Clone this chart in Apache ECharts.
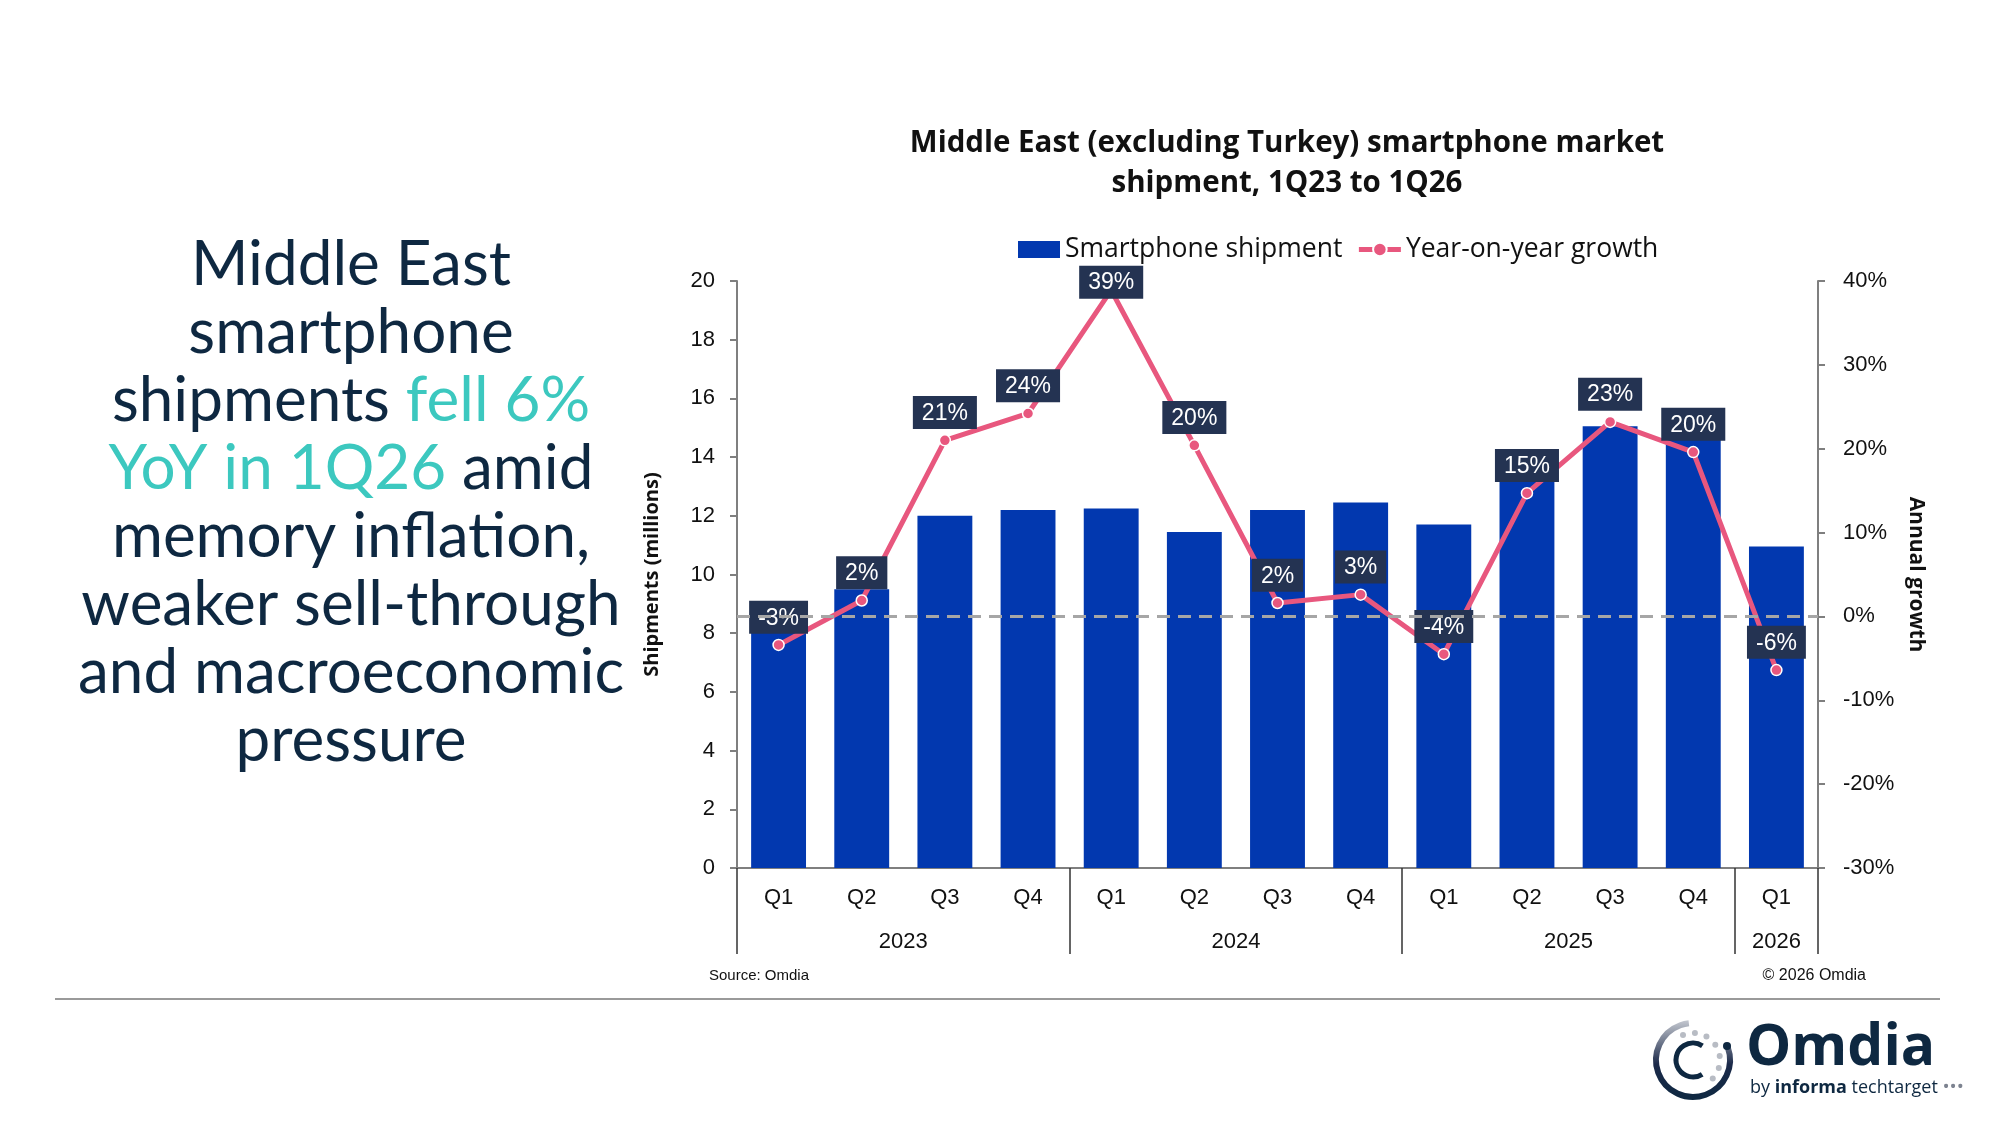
<!DOCTYPE html>
<html>
<head>
<meta charset="utf-8">
<script src="https://cdn.jsdelivr.net/npm/echarts@6/dist/echarts.min.js"></script>
<style>
  html, body { margin: 0; padding: 0; background: #fff; }
  #main { width: 2000px; height: 1125px; }
</style>
</head>
<body>
<div id="main"></div>
<script>
// data
var quarters = ['Q1', 'Q2', 'Q3', 'Q4', 'Q1', 'Q2', 'Q3', 'Q4', 'Q1', 'Q2', 'Q3', 'Q4', 'Q1'];
var years = ['2023', '2024', '2025', '2026'];
var quartersPerYear = [4, 4, 4, 1];
var shipments = [8.8, 9.5, 12.0, 12.2, 12.25, 11.45, 12.2, 12.45, 11.7, 13.2, 15.05, 14.9, 10.95];
var yoyGrowth = [-3.4, 1.9, 21.0, 24.2, 38.9, 20.4, 1.6, 2.6, -4.5, 14.7, 23.2, 19.6, -6.4];

var headline = [
    'Middle East',
    'smartphone',
    'shipments {t|fell 6%}',
    '{t|YoY in 1Q26} amid',
    'memory inflation,',
    'weaker sell-through',
    'and macroeconomic',
    'pressure'
];

var navy = '#0e2841';
var teal = '#3cc8bf';
var barBlue = '#0238af';
var pink = '#e8577e';
var axisFont = '"Liberation Sans", Arial, sans-serif';

// year group boundaries and centres for the second (year) axis
var yearBounds = [0];
var yearCentres = [];
quartersPerYear.forEach(function (n, i) {
    var start = yearBounds[i];
    yearBounds.push(start + n);
    yearCentres.push(start + n / 2);
});

function drawChart() {
    var dom = document.getElementById('main');
    var myChart = echarts.init(dom);
    var option = null;

    var peak = Math.max.apply(null, yoyGrowth);
    var growthData = yoyGrowth.map(function (v) {
        if (v === peak) {
            return { value: v, label: { position: 'inside', offset: [0, -8] } };
        }
        return v;
    });

    var headFont = '62px Lato, "Open Sans", sans-serif';
    var headlineText = headline.map(function (line, i) {
        return {
            type: 'text',
            x: 351,
            y: 265 + i * 68,
            style: {
                text: line,
                align: 'center',
                verticalAlign: 'middle',
                font: headFont,
                fill: navy,
                rich: { t: { fill: teal, font: headFont } }
            }
        };
    });

    option = {
        backgroundColor: '#fff',
        animation: false,
        textStyle: { fontFamily: axisFont },
        title: {
            text: 'Middle East (excluding Turkey) smartphone market\nshipment, 1Q23 to 1Q26',
            left: 1282,
            top: 119,
            textAlign: 'center',
            textStyle: {
                fontFamily: '"Open Sans", sans-serif',
                fontWeight: 'bold',
                fontSize: 29.5,
                lineHeight: 40,
                color: '#111'
            }
        },
        legend: {
            left: 1013,
            top: 231,
            itemWidth: 42,
            itemHeight: 17,
            itemGap: 14,
            textStyle: {
                fontFamily: '"Open Sans", sans-serif',
                fontSize: 26.5,
                color: '#111'
            },
            data: [
                { name: 'Smartphone shipment', icon: 'rect' },
                { name: 'Year-on-year growth', lineStyle: { width: 5 } }
            ]
        },
        grid: {
            left: 737,
            right: 182,
            top: 281,
            bottom: 257,
            containLabel: false
        },
        xAxis: [
            {
                type: 'category',
                data: quarters,
                position: 'bottom',
                axisLine: { show: true, onZero: false, lineStyle: { color: '#7f7f7f', width: 2 } },
                axisTick: { show: false },
                axisLabel: { fontSize: 22, color: '#111', margin: 19 },
                splitLine: { show: false }
            },
            {
                type: 'value',
                position: 'bottom',
                min: 0,
                max: quarters.length,
                axisLine: { show: false, onZero: false },
                axisTick: {
                    show: true,
                    inside: false,
                    customValues: yearBounds,
                    length: 86,
                    lineStyle: { color: '#333', width: 1.5 }
                },
                axisLabel: {
                    customValues: yearCentres,
                    fontSize: 22,
                    color: '#111',
                    margin: 63,
                    formatter: function (v) {
                        var i = yearCentres.indexOf(v);
                        return i >= 0 ? years[i] : '';
                    }
                },
                splitLine: { show: false }
            }
        ],
        yAxis: [
            {
                type: 'value',
                min: 0,
                max: 20,
                interval: 2,
                name: 'Shipments (millions)',
                nameLocation: 'middle',
                nameRotate: 90,
                nameGap: 75,
                nameTextStyle: {
                    fontFamily: '"Open Sans", sans-serif',
                    fontWeight: 'bold',
                    fontSize: 20,
                    color: '#111'
                },
                axisLine: { show: true, lineStyle: { color: '#7f7f7f', width: 2 } },
                axisTick: { show: true, length: 7, lineStyle: { color: '#7f7f7f', width: 2 } },
                axisLabel: { fontSize: 22, color: '#111', margin: 22 },
                splitLine: { show: false }
            },
            {
                type: 'value',
                min: -30,
                max: 40,
                interval: 10,
                name: 'Annual growth',
                nameLocation: 'middle',
                nameRotate: -90,
                nameGap: 83,
                nameTextStyle: {
                    fontFamily: '"Open Sans", sans-serif',
                    fontWeight: 'bold',
                    fontSize: 21,
                    color: '#111'
                },
                axisLine: { show: true, lineStyle: { color: '#7f7f7f', width: 2 } },
                axisTick: { show: true, length: 7, lineStyle: { color: '#7f7f7f', width: 2 } },
                axisLabel: { fontSize: 22, color: '#111', margin: 25, formatter: '{value}%' },
                splitLine: { show: false }
            }
        ],
        series: [
            {
                name: 'Smartphone shipment',
                type: 'bar',
                xAxisIndex: 0,
                yAxisIndex: 0,
                data: shipments,
                barWidth: '66%',
                itemStyle: { color: barBlue }
            },
            {
                name: 'Year-on-year growth',
                type: 'line',
                xAxisIndex: 0,
                yAxisIndex: 1,
                data: growthData,
                symbol: 'circle',
                symbolSize: 11,
                lineStyle: { color: pink, width: 5 },
                itemStyle: { color: pink, borderColor: '#fff', borderWidth: 1.5 },
                label: {
                    show: true,
                    position: 'top',
                    distance: 5,
                    backgroundColor: '#243352',
                    color: '#fff',
                    fontSize: 23,
                    padding: [6, 9, 4, 9],
                    formatter: function (p) {
                        return Math.round(p.value) + '%';
                    }
                },
                markLine: {
                    silent: true,
                    symbol: 'none',
                    label: { show: false },
                    lineStyle: { color: '#a6a6a6', type: [13, 8], width: 3 },
                    data: [{ yAxis: 0 }]
                },
                z: 3
            }
        ],
        graphic: headlineText.concat([
            // source and copyright
            {
                type: 'text',
                left: 709,
                top: 968,
                style: { text: 'Source: Omdia', font: '15px "Liberation Sans", Arial, sans-serif', fill: '#111' }
            },
            {
                type: 'text',
                right: 134,
                top: 968,
                style: { text: '\u00A9 2026 Omdia', font: '16px "Liberation Sans", Arial, sans-serif', fill: '#111' }
            },
            // divider
            {
                type: 'line',
                shape: { x1: 55, y1: 999, x2: 1940, y2: 999 },
                style: { stroke: '#9a9a9a', lineWidth: 2 }
            },
            // Omdia logo
            {
                type: 'arc',
                shape: { cx: 1693, cy: 1060, r: 37, startAngle: -0.35, endAngle: 4.6, clockwise: true },
                style: {
                    fill: 'none',
                    lineWidth: 6,
                    stroke: {
                        type: 'linear', x: 0, y: 0, x2: 0, y2: 1,
                        colorStops: [{ offset: 0, color: '#c4c8d0' }, { offset: 0.55, color: '#1c2a4a' }, { offset: 1, color: navy }]
                    }
                }
            },
            {
                type: 'arc',
                shape: { cx: 1693, cy: 1060, r: 17, startAngle: 1.0, endAngle: 5.3, clockwise: true },
                style: { fill: 'none', lineWidth: 5, stroke: navy }
            },
            {
                type: 'circle',
                shape: { cx: 1727, cy: 1046, r: 4 },
                style: { fill: navy }
            },
            {
                type: 'group',
                children: [0, 1, 2, 3, 4, 5, 6].map(function (k) {
                    var a = -1.95 + k * 0.45;
                    return {
                        type: 'circle',
                        shape: { cx: 1693 + 27 * Math.cos(a), cy: 1060 + 27 * Math.sin(a), r: 3 },
                        style: { fill: '#b8bcc4' }
                    };
                })
            },
            {
                type: 'text',
                left: 1746,
                top: 1020,
                style: { text: 'Omdia', font: 'bold 57px "Open Sans", sans-serif', fill: navy }
            },
            {
                type: 'text',
                left: 1750,
                top: 1078,
                style: {
                    text: '{r|by }{b|informa}{r| techtarget }{d|\u2022\u2022\u2022}',
                    rich: {
                        r: { font: '18px "Open Sans", sans-serif', fill: navy },
                        b: { font: 'bold 18px "Open Sans", sans-serif', fill: navy },
                        d: { font: '19px "Open Sans", sans-serif', fill: '#7d8390' }
                    }
                }
            }
        ])
    };

    // Invoke
    if (option && typeof option === 'object') {
        myChart.setOption(option, true);
    }
}

drawChart();
</script>
</body>
</html>
